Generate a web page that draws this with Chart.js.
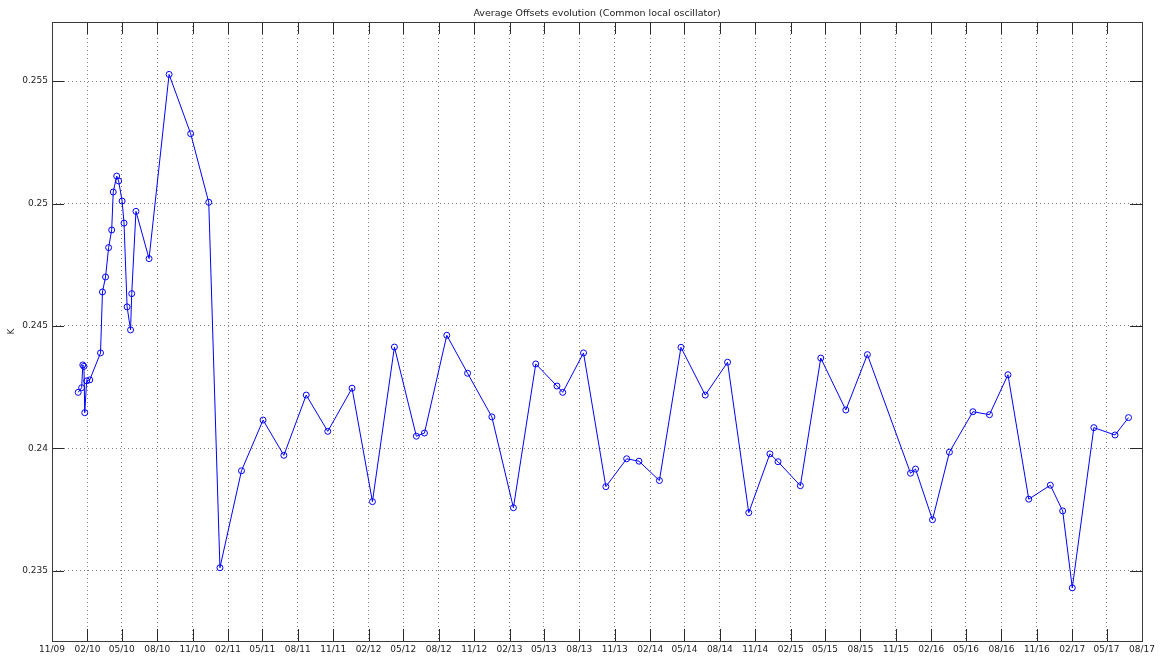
<!DOCTYPE html>
<html>
<head>
<meta charset="utf-8">
<title>Average Offsets evolution</title>
<script src="https://cdn.jsdelivr.net/npm/chart.js@4.4.1/dist/chart.umd.min.js"></script>
<style>
  html, body { margin: 0; padding: 0; background: #fff; }
  #wrap { width: 1163px; height: 657px; }
</style>
</head>
<body>
<div id="wrap"><canvas id="offsetChart" width="1163" height="657"></canvas></div>
<script>
const chartTitle = 'Average Offsets evolution (Common local oscillator)';
const yAxisLabel = 'K';

// measurement dates and average offsets
const sampleDates = [
  '2010-01-08', '2010-01-17', '2010-01-20', '2010-01-23', '2010-01-25', '2010-01-30',
  '2010-02-07', '2010-03-07', '2010-03-12', '2010-03-20', '2010-03-28', '2010-04-05',
  '2010-04-09', '2010-04-18', '2010-04-23', '2010-05-02', '2010-05-07', '2010-05-15',
  '2010-05-24', '2010-05-27', '2010-06-07', '2010-07-11', '2010-09-01', '2010-10-27',
  '2010-12-13', '2011-01-11', '2011-03-08', '2011-05-03', '2011-06-26', '2011-08-23',
  '2011-10-18', '2011-12-20', '2012-02-11', '2012-04-08', '2012-06-04', '2012-06-25',
  '2012-08-22', '2012-10-15', '2012-12-17', '2013-02-11', '2013-04-10', '2013-06-04',
  '2013-06-19', '2013-08-12', '2013-10-09', '2013-12-02', '2014-01-03', '2014-02-25',
  '2014-04-22', '2014-06-24', '2014-08-21', '2014-10-15', '2014-12-09', '2014-12-30',
  '2015-02-26', '2015-04-20', '2015-06-24', '2015-08-19', '2015-12-09', '2015-12-22',
  '2016-02-04', '2016-03-19', '2016-05-19', '2016-07-01', '2016-08-18', '2016-10-11',
  '2016-12-06', '2017-01-07', '2017-02-01', '2017-03-29', '2017-05-23', '2017-06-27'
];
const offsetValues = [
  0.24229, 0.24248, 0.24341, 0.24335, 0.24146, 0.24276,
  0.24280, 0.24390, 0.24639, 0.24700, 0.24820, 0.24892,
  0.25047, 0.25112, 0.25092, 0.25010, 0.24920, 0.24578,
  0.24484, 0.24632, 0.24968, 0.24775, 0.25527, 0.25285,
  0.25005, 0.23513, 0.23909, 0.24116, 0.23972, 0.24218,
  0.24070, 0.24246, 0.23783, 0.24414, 0.24050, 0.24063,
  0.24462, 0.24307, 0.24129, 0.23758, 0.24345, 0.24255,
  0.24229, 0.24390, 0.23844, 0.23958, 0.23948, 0.23869,
  0.24413, 0.24218, 0.24352, 0.23738, 0.23978, 0.23946,
  0.23848, 0.24369, 0.24157, 0.24383, 0.23899, 0.23916,
  0.23709, 0.23985, 0.24150, 0.24138, 0.24301, 0.23793,
  0.23850, 0.23745, 0.23431, 0.24085, 0.24055, 0.24126
];

const xTickLabels = [
  '11/09', '02/10', '05/10', '08/10', '11/10', '02/11', '05/11', '08/11',
  '11/11', '02/12', '05/12', '08/12', '11/12', '02/13', '05/13', '08/13',
  '11/13', '02/14', '05/14', '08/14', '11/14', '02/15', '05/15', '08/15',
  '11/15', '02/16', '05/16', '08/16', '11/16', '02/17', '05/17', '08/17'
];
const yTickValues = [0.235, 0.24, 0.245, 0.25, 0.255];
const yTickLabels = ['0.235', '0.24', '0.245', '0.25', '0.255'];
const yMin = 0.23214;
const yMax = 0.25741;

const toTime = (s) => {
  const [y, m, d] = s.split('-').map(Number);
  return Date.UTC(y, m - 1, d);
};
const labelToTime = (s) => {
  const [m, y] = s.split('/').map(Number);
  return Date.UTC(2000 + y, m - 1, 1);
};
const xTickValues = xTickLabels.map(labelToTime);
const points = sampleDates.map((d, i) => ({ x: toTime(d), y: offsetValues[i] }));

const tickFont = { family: 'DejaVu Sans', size: 9 };
const TICK_LEN = 12;

// box around the plot, inward tick marks, title and axis label
const framePlugin = {
  id: 'frame',
  afterDraw(chart) {
    const { ctx, chartArea: a, scales } = chart;
    ctx.save();
    ctx.strokeStyle = '#2a2a2a';
    ctx.lineWidth = 1;
    ctx.beginPath();
    xTickValues.forEach((v) => {
      const px = Math.round(scales.x.getPixelForValue(v)) + 0.5;
      ctx.moveTo(px, a.bottom);
      ctx.lineTo(px, a.bottom - TICK_LEN);
      ctx.moveTo(px, a.top);
      ctx.lineTo(px, a.top + TICK_LEN);
    });
    yTickValues.forEach((v) => {
      const py = Math.round(scales.y.getPixelForValue(v)) + 0.5;
      ctx.moveTo(a.left, py);
      ctx.lineTo(a.left + TICK_LEN, py);
      ctx.moveTo(a.right, py);
      ctx.lineTo(a.right - TICK_LEN, py);
    });
    ctx.stroke();
    ctx.strokeStyle = '#3a3a3a';
    ctx.strokeRect(Math.round(a.left) + 0.5, Math.round(a.top) + 0.5,
      Math.round(a.right - a.left), Math.round(a.bottom - a.top));

    ctx.fillStyle = '#222';
    ctx.font = '9.5px "DejaVu Sans"';
    ctx.textAlign = 'center';
    ctx.textBaseline = 'middle';
    ctx.fillText(chartTitle, (a.left + a.right) / 2, 14);

    ctx.font = '9px "DejaVu Sans"';
    ctx.translate(12, (a.top + a.bottom) / 2);
    ctx.rotate(-Math.PI / 2);
    ctx.fillText(yAxisLabel, 0, 0);
    ctx.restore();
  }
};

new Chart(document.getElementById('offsetChart').getContext('2d'), {
  type: 'line',
  data: {
    datasets: [{
      label: 'Average offset',
      data: points,
      borderColor: 'rgb(0, 0, 255)',
      borderWidth: 1,
      backgroundColor: 'rgba(0, 0, 0, 0)',
      pointRadius: 3,
      pointBorderWidth: 1,
      pointBorderColor: 'rgb(0, 0, 255)',
      pointBackgroundColor: 'rgba(0, 0, 0, 0)',
      tension: 0,
      fill: false
    }]
  },
  options: {
    responsive: false,
    animation: false,
    devicePixelRatio: 1,
    layout: { padding: { left: 0, right: 21, top: 22, bottom: 0 } },
    plugins: {
      legend: { display: false },
      tooltip: { enabled: false },
      title: { display: false }
    },
    scales: {
      x: {
        type: 'linear',
        min: labelToTime(xTickLabels[0]),
        max: labelToTime(xTickLabels[xTickLabels.length - 1]),
        afterBuildTicks: (scale) => { scale.ticks = xTickValues.map((v) => ({ value: v })); },
        afterFit: (scale) => { scale.height = 16; },
        grid: { color: 'rgba(0, 0, 0, 0.5)', drawTicks: false },
        border: { display: false, dash: [1, 3] },
        ticks: {
          autoSkip: false,
          maxRotation: 0,
          padding: 3,
          color: '#222',
          font: tickFont,
          callback: (v, i) => xTickLabels[i]
        }
      },
      y: {
        type: 'linear',
        min: yMin,
        max: yMax,
        afterBuildTicks: (scale) => { scale.ticks = yTickValues.map((v) => ({ value: v })); },
        afterFit: (scale) => { scale.width = 52; },
        grid: { color: 'rgba(0, 0, 0, 0.5)', drawTicks: false },
        border: { display: false, dash: [1, 3] },
        ticks: {
          padding: 4,
          color: '#222',
          font: tickFont,
          callback: (v, i) => yTickLabels[i]
        }
      }
    }
  },
  plugins: [framePlugin]
});
</script>
</body>
</html>
